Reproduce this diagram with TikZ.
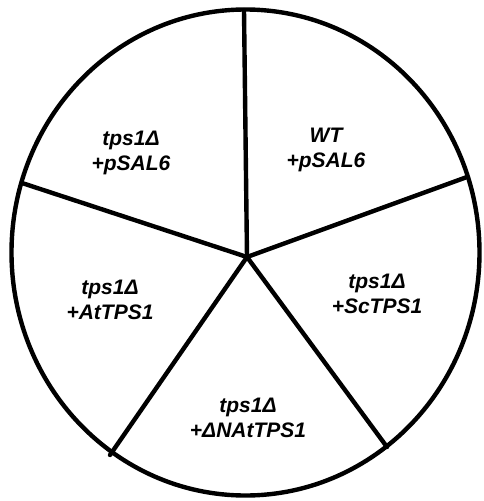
\documentclass[tikz,border=0pt]{standalone}
\usepackage{fontspec}
\setmainfont{Liberation Sans}
\tikzset{
  lbl/.style={align=center, font=\fontsize{21}{25}\selectfont\bfseries\itshape},
  rim/.style={line width=4.4pt}
}
\begin{document}
\begin{tikzpicture}[x=1pt, y=-1pt]
        \useasboundingbox (0,0) rectangle (484,501);

        % Plate
        \draw[rim] (245.5,252.5) ellipse [x radius=234pt, y radius=243pt];

        % Spokes
        \coordinate (hub) at (247,257);
        \coordinate (top) at (244,10);
        \coordinate (rgt) at (467,177);
        \coordinate (lrt) at (387,447);
        \coordinate (llt) at (110,455);
        \coordinate (lft) at (22,183);
        \foreach \p in {top, rgt, lrt, llt, lft}
            \draw[rim, line cap=round] (hub) -- (\p);

        % Sectors
        \node[lbl] (tl) at (131,153) {tps1Δ\\+pSAL6};
        \node[lbl] (tr) at (326,150) {WT\\+pSAL6};
        \node[lbl] (rt) at (377,294) {tps1Δ\\+ScTPS1};
        \node[lbl] (bt) at (248,418) {tps1Δ\\+ΔNAtTPS1};
        \node[lbl] (lt) at (110,300) {tps1Δ\\+AtTPS1};
    \end{tikzpicture}
\end{document}
